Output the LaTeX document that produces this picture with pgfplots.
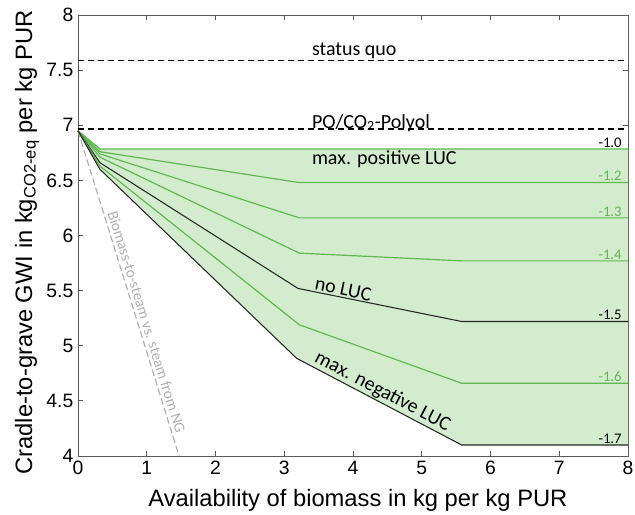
\documentclass[border=0pt]{standalone}
\usepackage{fontspec}
\setmainfont{Liberation Sans}
\newfontfamily\calibri{Carlito}
\usepackage{pgfplots}
\pgfplotsset{compat=1.18}

\definecolor{lucgreen}{RGB}{95,185,80}
\definecolor{lucfill}{RGB}{211,236,205}
\definecolor{axgray}{RGB}{90,90,90}
\definecolor{ngray}{RGB}{175,175,185}

\tikzset{
  ann/.style={font=\calibri\fontsize{15}{18}\selectfont},
  rlab/.style={font=\calibri\fontsize{11}{13}\selectfont, anchor=south east, inner sep=1pt},
}

\begin{document}
\begin{tikzpicture}
\begin{axis}[
  scale only axis, width=412.5pt, height=330.75pt,
  xmin=0, xmax=8, ymin=4, ymax=8,
  xtick={0,1,...,8}, ytick={4,4.5,...,8},
  tick align=inside, major tick length=3.75pt,
  axis line style={axgray, line width=0.6pt},
  tick style={axgray, line width=0.6pt},
  ticklabel style={font=\fontsize{14.5}{16}\selectfont},
  /pgf/number format/assume math mode=true,
  xlabel={Availability of biomass in kg per kg PUR},
  ylabel={Cradle-to-grave GWI in kg\textsubscript{CO2-eq} per kg PUR},
  label style={font=\fontsize{17.8}{20}\selectfont},
  xlabel style={at={(axis description cs:0.509,-0.100)}, anchor=center},
  ylabel style={at={(axis description cs:-0.0927,0.484)}, anchor=center},
  clip=false,
]
\coordinate (sw) at (rel axis cs:0,0);
\coordinate (ne) at (rel axis cs:1,1);

% shaded range between max. positive and max. negative LUC
\addplot[fill=lucfill, draw=none] coordinates {
  (0,6.95) (0.32,6.785) (8,6.785) (8,4.10) (5.58,4.10) (3.18,4.886) (0.32,6.60)
} --cycle;

% reference levels
\addplot[black, line width=1pt, dash pattern=on 4.5pt off 3pt] coordinates {(0,7.585) (8,7.585)};
\addplot[black, line width=1pt, dash pattern=on 4.5pt off 3pt] coordinates {(0,6.965) (8,6.965)};

% biomass-to-steam line
\addplot[ngray, line width=0.9pt, dash pattern=on 5pt off 2.5pt] coordinates {(0,6.95) (1.47,4.0)};

% LUC curves
\addplot[lucgreen, line width=0.9pt] coordinates {(0,6.95) (0.32,6.785) (8,6.785)};
\addplot[lucgreen, line width=0.9pt] coordinates {(0,6.95) (0.32,6.76) (3.22,6.48) (8,6.48)};
\addplot[lucgreen, line width=0.9pt] coordinates {(0,6.95) (0.32,6.74) (3.22,6.16) (8,6.16)};
\addplot[lucgreen, line width=0.9pt] coordinates {(0,6.95) (0.32,6.71) (3.22,5.84) (5.58,5.77) (8,5.77)};
\addplot[black!85, line width=0.8pt] coordinates {(0,6.95) (0.32,6.66) (3.20,5.52) (5.58,5.22) (8,5.22)};
\addplot[lucgreen, line width=0.9pt] coordinates {(0,6.95) (0.32,6.63) (3.22,5.19) (5.58,4.66) (8,4.66)};
\addplot[black!85, line width=0.8pt] coordinates {(0,6.95) (0.32,6.60) (3.18,4.886) (5.58,4.10) (8,4.10)};

% annotations
\node[ann, anchor=base west, inner sep=0pt] at (axis cs:3.40,7.63) {status quo};
\node[ann, anchor=base west, inner sep=0pt] at (axis cs:3.40,6.975) {PO/CO\textsubscript{2}-Polyol};
\node[ann, anchor=west, inner sep=0pt] at (axis cs:3.40,6.69) {max. positive LUC};
\node[ann, anchor=south, inner sep=1pt, rotate=-11.4] at (axis cs:3.835,5.44) {no LUC};
\node[ann, anchor=south, inner sep=1pt, rotate=-27.7] at (axis cs:4.36,4.50) {max. negative LUC};
\node[anchor=south, inner sep=2.5pt, rotate=-72.75, text=ngray,
      font=\calibri\fontsize{11.5}{13}\selectfont] at (axis cs:0.876,5.19)
      {Biomass-to-steam vs. steam from NG};

% right-hand labels
\node[rlab, text=black] at (axis cs:7.93,6.785) {-1.0};
\node[rlab, text=lucgreen] at (axis cs:7.93,6.48) {-1.2};
\node[rlab, text=lucgreen] at (axis cs:7.93,6.16) {-1.3};
\node[rlab, text=lucgreen] at (axis cs:7.93,5.77) {-1.4};
\node[rlab, text=black] at (axis cs:7.93,5.22) {-1.5};
\node[rlab, text=lucgreen] at (axis cs:7.93,4.66) {-1.6};
\node[rlab, text=black] at (axis cs:7.93,4.10) {-1.7};
\end{axis}
\pgfresetboundingbox
\path[use as bounding box] ([shift={(-58.5pt,-43.5pt)}]sw) rectangle ([shift={(5.25pt,11.25pt)}]ne);
\end{tikzpicture}
\end{document}
